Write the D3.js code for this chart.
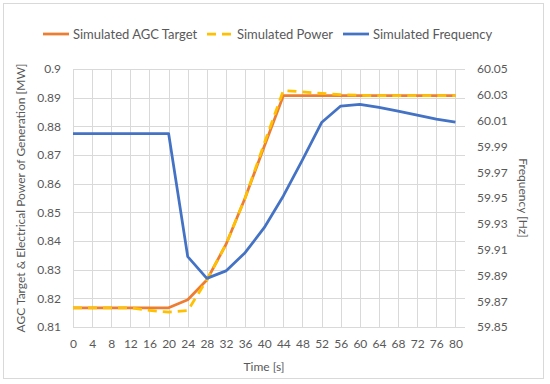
<!DOCTYPE html>
<html>
<head>
<meta charset="utf-8">
<script src="https://cdn.jsdelivr.net/npm/d3@7"></script>
<style>
  body { margin: 0; background: #fff; }
  text { font-family: Lato, "Open Sans", sans-serif; fill: #595959; }
</style>
</head>
<body>
<div id="container"></div>
<script>
// time axis [s]
let times = [0, 4, 8, 12, 16, 20, 24, 28, 32, 36, 40, 44, 48, 52, 56, 60, 64, 68, 72, 76, 80];
// MW
let agcTarget = [0.8167, 0.8167, 0.8167, 0.8167, 0.8167, 0.8167, 0.8195, 0.8264, 0.8388, 0.855, 0.873,
  0.8907, 0.8907, 0.8907, 0.8907, 0.8907, 0.8907, 0.8907, 0.8907, 0.8907, 0.8907];
let simPower = [0.8167, 0.8167, 0.8167, 0.8167, 0.8158, 0.8152, 0.8157, 0.8264, 0.8388, 0.855, 0.874,
  0.8925, 0.892, 0.8915, 0.8911, 0.8908, 0.8907, 0.8907, 0.8907, 0.8907, 0.8907];
// Hz
let simFreq = [60.0, 60.0, 60.0, 60.0, 60.0, 60.0, 59.9045, 59.8877, 59.8935, 59.9076, 59.927,
  59.9516, 59.9795, 60.0085, 60.0213, 60.0225, 60.0202, 60.0174, 60.0143, 60.0112, 60.0089];

let leftTicks = [0.81, 0.82, 0.83, 0.84, 0.85, 0.86, 0.87, 0.88, 0.89, 0.9];
let rightTicks = [59.85, 59.87, 59.89, 59.91, 59.93, 59.95, 59.97, 59.99, 60.01, 60.03, 60.05];

let w = 550;
let h = 384;
let plotLeft = 73, plotRight = 465, plotTop = 69, plotBottom = 327;

let viz = d3.select("#container")
  .append("svg")
  .attr("width", w)
  .attr("height", h);

viz.append("rect")
  .attr("x", 3.5).attr("y", 3.5)
  .attr("width", 540).attr("height", 375)
  .attr("fill", "#fff")
  .attr("stroke", "#d9d9d9");

let xScale = d3.scaleLinear().domain([0, 82]).range([plotLeft, plotRight]);
let yLeft = d3.scaleLinear().domain([0.81, 0.9]).range([plotBottom, plotTop]);
let yRight = d3.scaleLinear().domain([59.85, 60.05]).range([plotBottom, plotTop]);

// gridlines
let grid = viz.append("g").attr("class", "grid");
grid.selectAll(".hgrid").data(leftTicks).enter()
  .append("line")
  .attr("x1", plotLeft).attr("x2", plotRight)
  .attr("y1", d => Math.round(yLeft(d)) + 0.5)
  .attr("y2", d => Math.round(yLeft(d)) + 0.5)
  .attr("stroke", "#d9d9d9").attr("stroke-width", 1);
grid.selectAll(".vgrid").data(times).enter()
  .append("line")
  .attr("y1", plotTop).attr("y2", plotBottom)
  .attr("x1", d => Math.round(xScale(d)) + 0.5)
  .attr("x2", d => Math.round(xScale(d)) + 0.5)
  .attr("stroke", "#d9d9d9").attr("stroke-width", 1);

// axes (labels only)
let fmtL = d3.format(".2~f");
let xAxis = d3.axisBottom(xScale).tickValues(times).tickSize(0).tickPadding(12);
let leftAxis = d3.axisLeft(yLeft).tickValues(leftTicks).tickSize(0).tickPadding(12).tickFormat(fmtL);
let rightAxis = d3.axisRight(yRight).tickValues(rightTicks).tickSize(0).tickPadding(12).tickFormat(d3.format(".2f"));

let xg = viz.append("g").attr("transform", "translate(0," + plotBottom + ")").call(xAxis);
let lg = viz.append("g").attr("transform", "translate(" + plotLeft + ",0)").call(leftAxis);
let rg = viz.append("g").attr("transform", "translate(" + plotRight + ",0)").call(rightAxis);
[xg, lg, rg].forEach(g => {
  g.select(".domain").remove();
  g.selectAll("text").style("font-size", "12px").attr("fill", "#595959")
    .style("font-family", "Lato, sans-serif");
});

// axis titles
viz.append("text")
  .attr("x", (plotLeft + 455) / 2).attr("y", 371)
  .attr("text-anchor", "middle").style("font-size", "12px")
  .text("Time [s]");
viz.append("text")
  .attr("transform", "translate(25," + ((plotTop + plotBottom) / 2) + ") rotate(-90)")
  .attr("text-anchor", "middle").style("font-size", "12px")
  .text("AGC Target & Electrical Power of Generation [MW]");
viz.append("text")
  .attr("transform", "translate(519," + ((plotTop + plotBottom) / 2) + ") rotate(90)")
  .attr("text-anchor", "middle").style("font-size", "12px")
  .text("Frequency [Hz]");

// series
let agcLine = d3.line().x((d, i) => xScale(times[i])).y(d => yLeft(d));
let freqLine = d3.line().x((d, i) => xScale(times[i])).y(d => yRight(d));

let graphGroup = viz.append("g").attr("class", "graphGroup");
graphGroup.append("path").datum(agcTarget)
  .attr("d", agcLine)
  .attr("fill", "none").attr("stroke", "#ED7D31").attr("stroke-width", 2.75)
  .attr("stroke-linejoin", "round");
graphGroup.append("path").datum(simPower)
  .attr("d", agcLine)
  .attr("fill", "none").attr("stroke", "#FFC000").attr("stroke-width", 2.75)
  .attr("stroke-dasharray", "9,6");
graphGroup.append("path").datum(simFreq)
  .attr("d", freqLine)
  .attr("fill", "none").attr("stroke", "#4472C4").attr("stroke-width", 2.75)
  .attr("stroke-linejoin", "round");

// legend
let legendItems = [
  { name: "Simulated AGC Target", color: "#ED7D31", dash: null, x: 43 },
  { name: "Simulated Power", color: "#FFC000", dash: "9,6", x: 207 },
  { name: "Simulated Frequency", color: "#4472C4", dash: null, x: 343 }
];
let legend = viz.append("g").attr("class", "legend");
let items = legend.selectAll(".item").data(legendItems).enter()
  .append("g").attr("transform", d => "translate(" + d.x + ",34)");
items.append("line")
  .attr("x1", 0).attr("x2", 26).attr("y1", 0).attr("y2", 0)
  .attr("stroke", d => d.color).attr("stroke-width", 2.75)
  .attr("stroke-dasharray", d => d.dash);
items.append("text")
  .attr("x", 30).attr("y", 4.5)
  .style("font-size", "13px")
  .text(d => d.name);
</script>
</body>
</html>
